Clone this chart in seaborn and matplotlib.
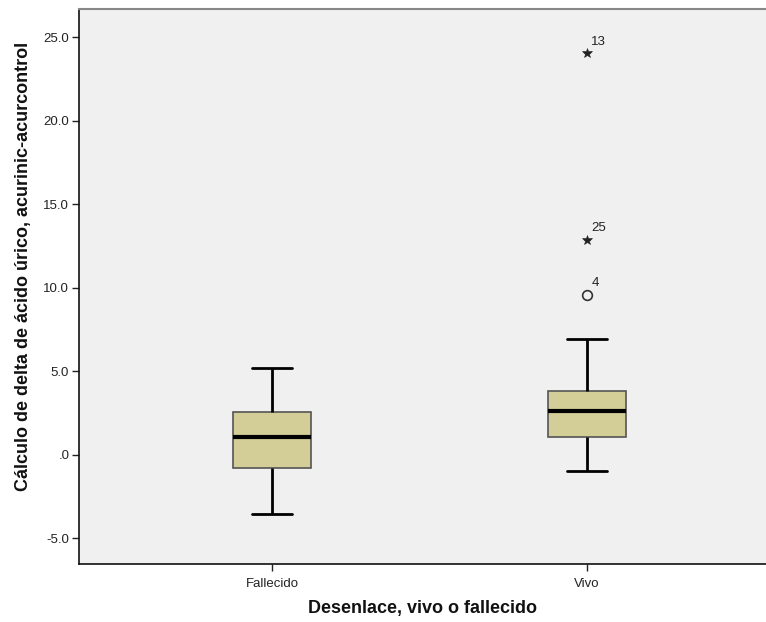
import matplotlib
matplotlib.use("Agg")
import matplotlib.pyplot as plt
import seaborn as sns
import pandas as pd

# five-number summaries (whisker low, Q1, median, Q3, whisker high)
groups = ["Fallecido", "Vivo"]
fallecido_vals = [-3.54, -0.82, 1.08, 2.54, 5.20]
vivo_vals = [-0.96, 1.04, 2.60, 3.82, 6.91]

# outliers of the "Vivo" group (case number, value, kind)
outlier_cases = ["13", "25", "4"]
outlier_values = [24.06, 12.89, 9.59]
outlier_kinds = ["extreme", "extreme", "outlier"]

yticks = [-5, 0, 5, 10, 15, 20, 25]
ytick_labels = ["-5.0", ".0", "5.0", "10.0", "15.0", "20.0", "25.0"]

df = pd.DataFrame({
    "grupo": [groups[0]] * len(fallecido_vals) + [groups[1]] * len(vivo_vals),
    "valor": fallecido_vals + vivo_vals,
})

sns.set_style("white")
plt.rcParams["font.family"] = ["Liberation Sans", "DejaVu Sans"]

fig = plt.figure(figsize=(7.66, 6.22), dpi=100)
ax = fig.add_axes([79 / 766, 1 - 564 / 622, (766 - 79) / 766, (564 - 9) / 622])
ax.set_facecolor("#F0F0F0")

sns.boxplot(data=df, x="grupo", y="valor", order=groups, ax=ax,
            width=0.25, whis=1.5, showfliers=False,
            color="#D3CE97", saturation=1,
            boxprops=dict(edgecolor="#555555", linewidth=1.2),
            whiskerprops=dict(color="black", linewidth=2),
            capprops=dict(color="black", linewidth=2),
            medianprops=dict(color="black", linewidth=3))

# outliers
for case, val, kind in zip(outlier_cases, outlier_values, outlier_kinds):
    if kind == "extreme":
        ax.plot(1, val, marker="*", markersize=7.5, color="#222222",
                markeredgewidth=0.4, linestyle="none")
    else:
        ax.plot(1, val, marker="o", markersize=7, markerfacecolor="none",
                markeredgecolor="#333333", markeredgewidth=1.2, linestyle="none")
    ax.annotate(case, (1, val), xytext=(3, 4), textcoords="offset points",
                fontsize=9.5, color="#222222", va="bottom", ha="left")

ax.set_xlim(-0.613, 1.568)
ax.set_ylim(-6.55, 26.7)
ax.set_yticks(yticks)
ax.set_yticklabels(ytick_labels)

ax.tick_params(axis="both", direction="out", length=5, width=1, color="#222222",
               labelsize=9.5, labelcolor="#222222", left=True, bottom=True)
ax.tick_params(axis="y", pad=2)
ax.tick_params(axis="x", pad=5)

for side in ["left", "bottom"]:
    ax.spines[side].set_color("#111111")
    ax.spines[side].set_linewidth(1.2)
ax.spines["top"].set_color("#888888")
ax.spines["top"].set_linewidth(1.5)
ax.spines["right"].set_visible(False)

ax.set_xlabel("Desenlace, vivo o fallecido", fontsize=13, fontweight="bold",
              labelpad=7, color="#111111")
ax.set_ylabel("Cálculo de delta de ácido úrico, acurinic-acurcontrol", fontsize=13,
              fontweight="bold", labelpad=8, color="#111111")
ax.yaxis.label.set_y(0.537)

fig.savefig("out.png", dpi=100)
plt.close(fig)
